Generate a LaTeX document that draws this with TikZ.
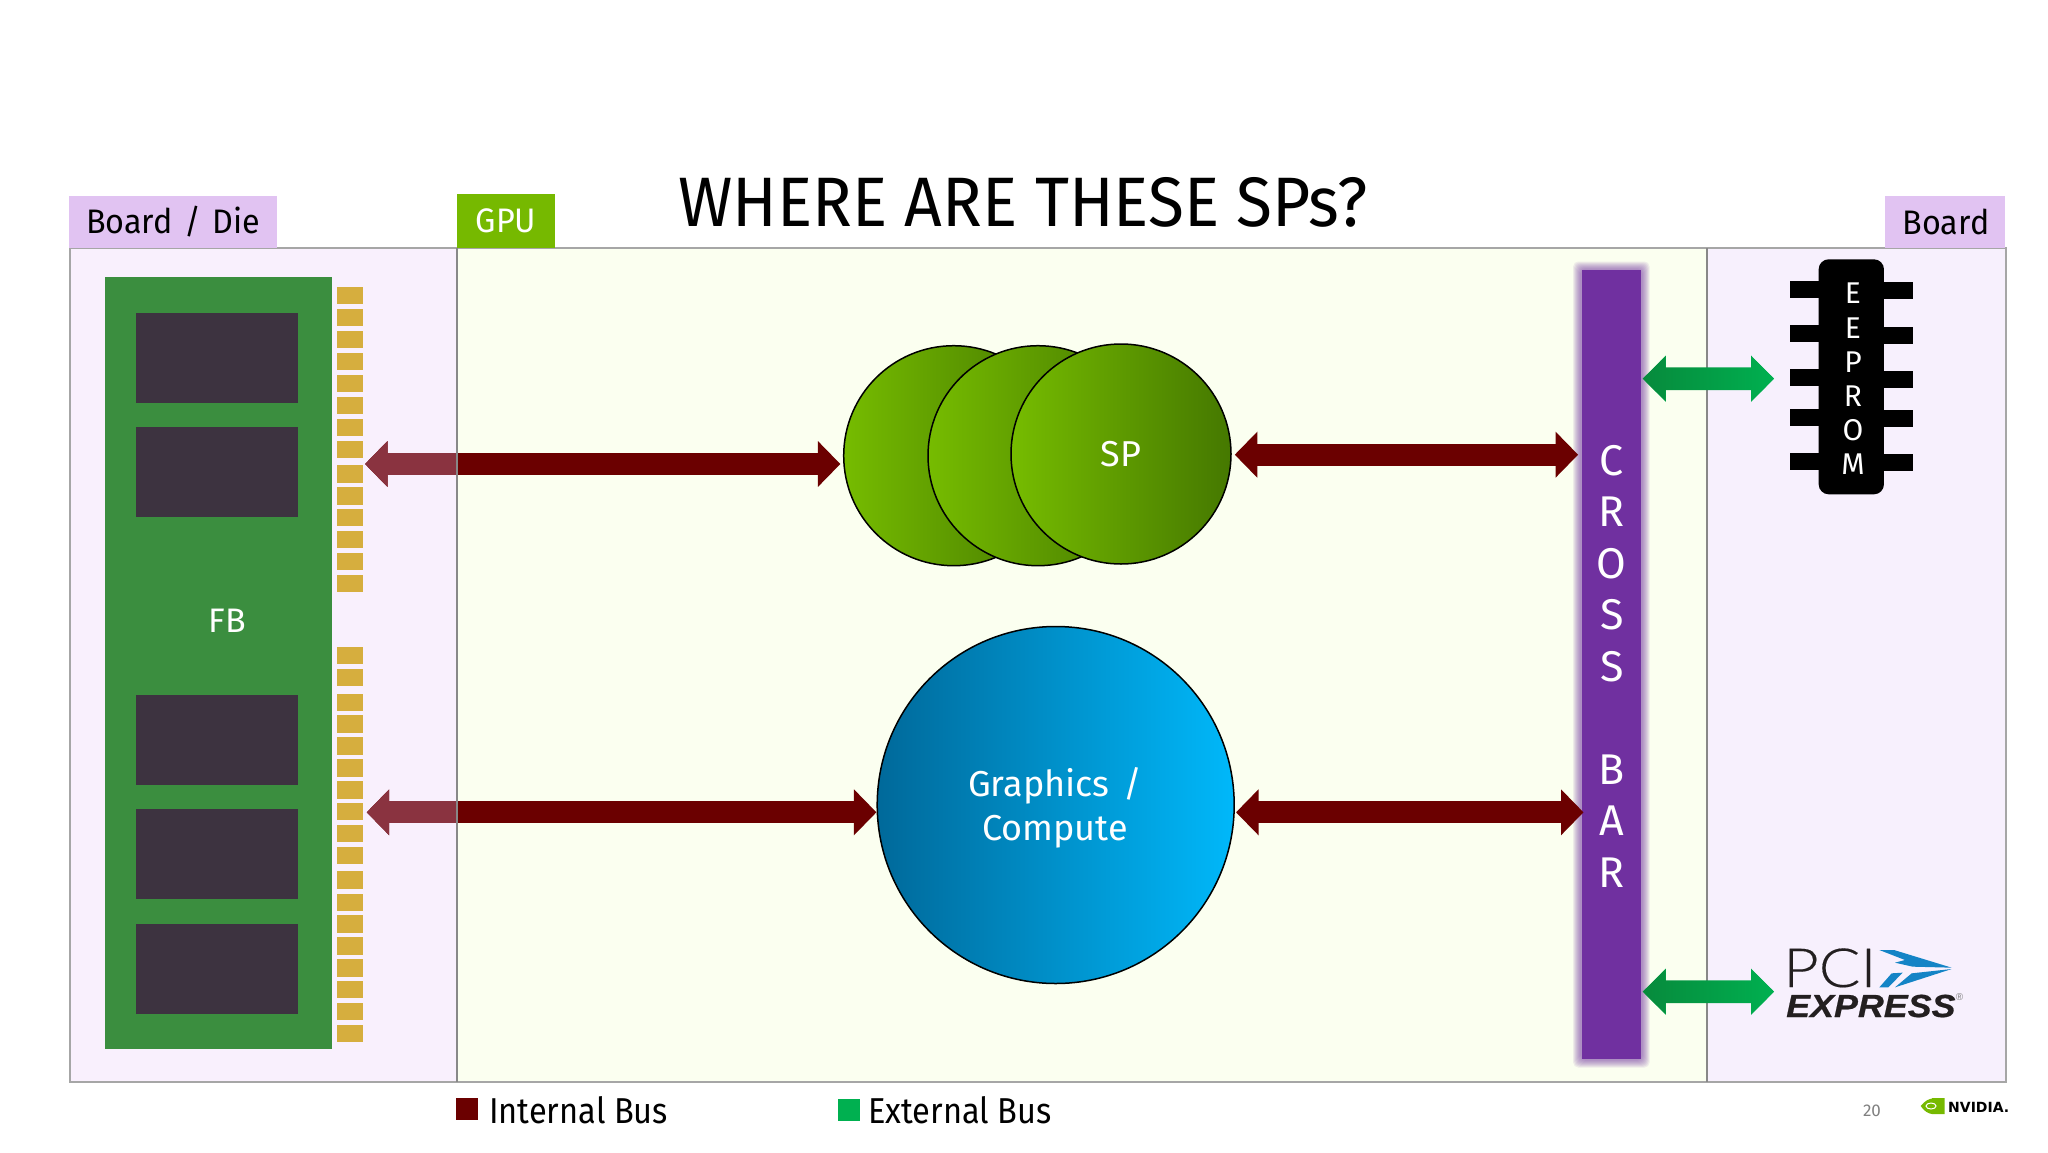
\documentclass[tikz,border=0pt]{standalone}
\usepackage{fontspec}
\usetikzlibrary{arrows.meta,calc}
\setmainfont{Fira Sans}
\newfontfamily\titlefont[FakeStretch=0.94]{Fira Sans}
\newfontfamily\legfont[FakeStretch=0.905]{Fira Sans}
\newfontfamily\tabfont[FakeStretch=0.95]{Fira Sans}
\newfontfamily\expressfont[FakeStretch=1.12,FakeBold=0.6]{Liberation Sans}
\newfontfamily\logofont{Liberation Sans}
\newfontfamily\nvfont{DejaVu Sans}
\newfontfamily\thinfont[FakeStretch=1.14,FakeBold=0.3]{Lato Light}
\newcommand{\fsz}[2]{\fontsize{#1}{#2}\selectfont}
\definecolor{tabpurple}{HTML}{E1C3F2}
\definecolor{tabgreen}{HTML}{76B900}
\definecolor{panelL}{HTML}{F9F0FD}
\definecolor{panelM}{HTML}{FBFFF0}
\definecolor{panelR}{HTML}{F7F0FD}
\definecolor{frameC}{HTML}{A6A6A6}
\definecolor{divC}{HTML}{888888}
\definecolor{fbgreen}{HTML}{3B8E3F}
\definecolor{chipC}{HTML}{3D3340}
\definecolor{goldC}{HTML}{D6AE3E}
\definecolor{busdark}{HTML}{6B0000}
\definecolor{buslight}{HTML}{8A3340}
\definecolor{extL}{HTML}{078A3C}
\definecolor{extR}{HTML}{00B050}
\definecolor{xbarC}{HTML}{7030A0}
\definecolor{spL}{HTML}{76BC00}
\definecolor{spM}{HTML}{64A400}
\definecolor{spR}{HTML}{457800}
\definecolor{gcL}{HTML}{00699A}
\definecolor{gcR}{HTML}{00B8FA}
\definecolor{pciblue}{HTML}{1484C6}
\definecolor{logodark}{HTML}{231F20}
\tikzset{
  x=1pt,y=-1pt,
  tabbox/.style={inner sep=0pt,minimum height=52pt,font=\tabfont\fsz{34}{40}},
  chipbox/.style={fill=chipC,inner sep=0pt,minimum width=162pt,minimum height=90pt},
  goldpin/.style={fill=goldC,inner sep=0pt,minimum width=26.4pt,minimum height=17.3pt},
  eepin/.style={fill=black,inner sep=0pt,minimum height=17pt,minimum width=29pt},
  intbus/.style={draw=busdark,line width=22.3pt,{Triangle[length=22.5pt,width=44.6pt]}-{Triangle[length=22.5pt,width=44.6pt]}},
  lightbus/.style={intbus,draw=buslight},
  extbus/.style={draw=extR,line width=22.3pt,{Triangle[length=23pt,width=45pt]}-{Triangle[length=23pt,width=45pt]}},
  spcircle/.style={circle,draw=black,line width=1.5pt,inner sep=0pt,minimum size=220pt,left color=spL,middle color=spM,right color=spR,text=white,font=\fsz{36}{42}},
  legendsq/.style={inner sep=0pt,minimum width=21.6pt,minimum height=22pt},
  legendtxt/.style={anchor=base west,inner sep=0pt,font=\legfont\fsz{36}{42}}
}
\newcommand{\gradarrow}[1]{%
  \shade[left color=extL,right color=extR]
    (1642.7,#1) -- (1665.7,{#1-22.6}) -- (1665.7,{#1-11.4}) -- (1751,{#1-11.4}) -- (1751,{#1-22.6})
    -- (1774,#1) -- (1751,{#1+22.6}) -- (1751,{#1+11.4}) -- (1665.7,{#1+11.4}) -- (1665.7,{#1+22.6}) -- cycle;}
\begin{document}
\begin{tikzpicture}
\useasboundingbox (0,0) rectangle (2048,1152);
% panels
\fill[panelL] (70,248) rectangle (457,1082);
\fill[panelM] (457,248) rectangle (1707,1082);
\fill[panelR] (1707,248) rectangle (2006,1082);
\draw[frameC,line width=1.5pt] (70,248) rectangle (2006,1082);
% tabs
\node[tabbox,fill=tabpurple,minimum width=208pt,text=black] (tabBD) at (173,222) {Board\hspace{3pt} / \hspace{3pt}Die};
\node[tabbox,fill=tabgreen,minimum width=98pt,minimum height=54pt,text=white] (tabGPU) at (506,221) {GPU};
\node[tabbox,fill=tabpurple,minimum width=120pt,text=black] (tabB) at (1945,222) {\hspace{2pt}Board};
\node[inner sep=0pt,font=\titlefont\fsz{70}{80}] (title) at (1023,202) {WHERE ARE THESE SPs?};
% FB
\node[fill=fbgreen,inner sep=0pt,minimum width=227pt,minimum height=772pt] (fb) at (218.5,663) {};
\node[inner sep=0pt,text=white,font=\fsz{34}{40}] (fblabel) at (227,621) {FB};
\foreach \y [count=\i] in {357.5,472,740,854,969}
  \node[chipbox] (chip\i) at (217.3,\y) {};
\foreach \y [count=\i] in {286.7,308.7,330.7,352.7,374.7,396.7,418.7,440.3,465,487,508.7,530.3,552.3,574.3,646.7,668.7,693.3,715,737,759,781,802.7,824.7,846.7,871,893.3,915,937,959,980.7,1002.7,1024.3}
  \node[goldpin,anchor=north west] (gold\i) at (336.3,\y) {};
% SP and graphics circles
\node[spcircle] (spa) at (953.7,455.7) {};
\node[spcircle] (spb) at (1038,455.7) {};
\node[spcircle] (spc) at (1121,454) {\raisebox{-1.5pt}{SP}};
\node[circle,draw=black,line width=1.5pt,inner sep=0pt,minimum size=357pt,left color=gcL,right color=gcR] (gc) at (1055.7,805) {};
\node[inner sep=0pt,text=white,font=\fsz{36}{44},align=center] (gclabel) at (1055,808) {Graphics\hspace{4pt} /\hspace{2pt}\\Compute};
% crossbar glow and bar
\foreach \d in {8.5,7.5,6.5,5.5,4.5,3.5,2.5,1.5}
  \fill[xbarC,opacity=0.09,rounded corners=5pt] ({1581.7-\d},{270-\d}) rectangle ({1641+\d},{1059+\d});
\node[fill=xbarC,inner sep=0pt,minimum width=59.3pt,minimum height=789pt] (xbar) at (1611.35,664.5) {};
\node[inner sep=0pt,text=white,font=\fsz{43}{51.5},align=center] (xbarlabel) at (1611.7,666) {C\\R\\O\\S\\S\\[51.5pt]B\\A\\R};
% named bus ends
\coordinate (busA) at (365,464);
\coordinate (busB) at (366.7,812.3);
\coordinate (busC) at (1236,812.3);
\coordinate (extA) at (1774,378.7);
\coordinate (extB) at (1774,991.7);
% internal buses
\draw[intbus,shorten >=2.6pt] (busA) -- (busA -| spa.west);
\draw[intbus] (busB) -- (busB -| gc.west);
\begin{scope}
  \clip (70,248) rectangle (457,1082);
  \draw[lightbus,shorten >=2.6pt] (busA) -- (busA -| spa.west);
  \draw[lightbus] (busB) -- (busB -| gc.west);
\end{scope}
\draw[intbus,shorten <=-3pt,shorten >=3.4pt] ([xshift=6pt,yshift=-0.7pt]spc.east) -- ([yshift=-0.7pt]spc.east -| xbar.west);
\draw[intbus,shorten >=-2pt] (busC) -- (busC -| xbar.west);
% dividers
\draw[divC,line width=1.5pt] (457,248) -- (457,1082);
\draw[divC,line width=1.5pt] (1707,248) -- (1707,1082);
% external buses
\draw[extbus,shorten <=1.7pt] (extA -| xbar.east) -- (extA);
\draw[extbus,shorten <=1.7pt] (extB -| xbar.east) -- (extB);
\gradarrow{378.7}
\gradarrow{991.7}
% EEPROM
\foreach \y [count=\i] in {289,333.3,377.7,417.7,461.3}
  \node[eepin] (pinL\i) at (1804.5,\y) {};
\foreach \y [count=\i] in {290.7,335.3,379.7,418.3,462.7}
  \node[eepin] (pinR\i) at (1898.3,\y) {};
\node[fill=black,inner sep=0pt,minimum width=65.3pt,minimum height=235pt,rounded corners=10pt] (eeprom) at (1851.3,376.8) {};
\node[inner sep=0pt,text=white,font=\fsz{30}{34.2},align=center] (eelabel) at (1853,379) {E\\E\\P\\R\\O\\M};
% PCI Express logo
\node[inner sep=0pt,anchor=base west,text=logodark,font=\thinfont\fsz{54}{60}] (pci) at (1783,987) {PCI};
\node[inner sep=0pt,anchor=base west,text=logodark,font=\expressfont\bfseries\itshape\fsz{32}{36}] (express) at (1786,1017) {EXPRESS};
\node[inner sep=0pt,text=gray,font=\logofont\fsz{10}{11}] (regmark) at (1959.5,997) {®};
\begin{scope}[shift={(1780,930)},x=0.3333pt,y=-0.3333pt]
  \fill[pciblue] (298,60) -- (342,60) -- (515,113) -- (398,110) -- (345,98) -- (375,90) -- cycle;
  \fill[pciblue] (298,172) -- (335,130) -- (368,128) -- (325,172) -- cycle;
  \fill[pciblue] (345,172) -- (395,130) -- (515,117) -- cycle;
\end{scope}
% legend
\node[legendsq,fill=busdark] (legI) at (467,1109) {};
\node[legendtxt] (legIt) at (489,1123.5) {Internal Bus};
\node[legendsq,fill=extR] (legE) at (849,1110) {};
\node[legendtxt] (legEt) at (868,1123.5) {External Bus};
% page number and logo
\node[inner sep=0pt,text=gray,font=\fsz{17}{20}] (pageno) at (1872,1111) {20};
\fill[tabgreen] (1920.7,1106) .. controls (1925,1100.5) and (1929,1099) .. (1932,1098.5) -- (1932,1098) -- (1944.5,1098) -- (1944.5,1114) -- (1932,1114) .. controls (1928,1113.5) and (1924,1111) .. (1920.7,1106) -- cycle;
\draw[white,line width=1pt] (1931,1106) ellipse (5pt and 3pt);
\fill[tabgreen] (1931,1106) circle (1.4pt);
\node[inner sep=0pt,anchor=base west,text=black,font=\nvfont\bfseries\fsz{14}{16}] (nvtext) at (1948,1112) {NVIDIA.};
\end{tikzpicture}
\end{document}
